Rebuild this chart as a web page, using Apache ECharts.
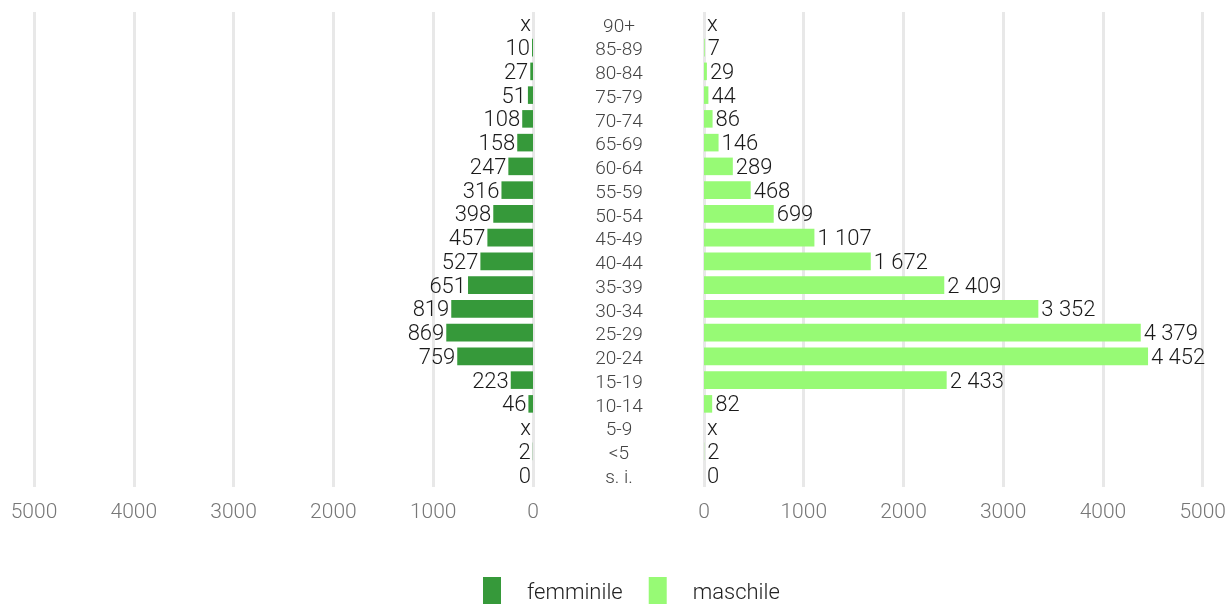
<!DOCTYPE html>
<html><head><meta charset="utf-8">
<script src="https://cdn.jsdelivr.net/npm/echarts@6/dist/echarts.min.js"></script>
<style>html,body{margin:0;padding:0;background:#fff}#c{width:1229px;height:604px}</style>
</head><body><div id="c"></div>
<script>
const categories = ['90+','85-89','80-84','75-79','70-74','65-69','60-64','55-59','50-54','45-49','40-44','35-39','30-34','25-29','20-24','15-19','10-14','5-9','<5','s. i.'];
// null = 'x' (confidential value)
const femminile = [null,10,27,51,108,158,247,316,398,457,527,651,819,869,759,223,46,null,2,0];
const maschile  = [null,7,29,44,86,146,289,468,699,1107,1672,2409,3352,4379,4452,2433,82,null,2,0];
const axisTicks = [0,1000,2000,3000,4000,5000];

const FONT = 'Roboto';
const fmt = v => String(v).replace(/\B(?=(\d{3})+(?!\d))/g, ' ');
const toData = arr => arr.map(v => v === null ? {value: 0, missing: true} : {value: v});
const labelFmt = p => p.data.missing ? 'x' : fmt(p.value);

const chart = echarts.init(document.getElementById('c'));
const xCommon = {
  type: 'value', min: axisTicks[0], max: axisTicks[axisTicks.length-1], interval: 1000,
  axisLine: {show: false}, axisTick: {show: false},
  splitLine: {show: true, lineStyle: {color: '#e8e8e8', width: 3}},
  axisLabel: {color: '#777', fontSize: 21, fontWeight: 300, fontFamily: FONT, margin: 15,
              formatter: v => String(v)}
};
chart.setOption({
  animation: false,
  grid: [
    {left: 34, width: 499, top: 12, height: 475},
    {left: 704, width: 499, top: 12, height: 475},
    {left: 0, width: 533, top: 15, height: 475}
  ],
  xAxis: [
    Object.assign({gridIndex: 0, inverse: true}, xCommon),
    Object.assign({gridIndex: 1}, xCommon),
    {gridIndex: 2, type: 'value', show: false}
  ],
  yAxis: [
    {gridIndex: 0, type: 'category', data: categories, inverse: true,
     axisLine: {show: false}, axisTick: {show: false}, axisLabel: {show: false}},
    {gridIndex: 1, type: 'category', data: categories, inverse: true,
     axisLine: {show: false}, axisTick: {show: false}, axisLabel: {show: false}},
    {gridIndex: 2, type: 'category', data: categories, inverse: true, position: 'right',
     axisLine: {show: false}, axisTick: {show: false}, splitLine: {show: false},
     axisLabel: {interval: 0, color: '#444', fontSize: 19, fontWeight: 300, fontFamily: FONT, align: 'center', margin: 86}}
  ],
  legend: {
    left: 478, top: 572, itemWidth: 18, itemHeight: 32, itemGap: 26, icon: 'rect',
    textStyle: {fontSize: 22, fontWeight: 300, fontFamily: FONT, color: '#222', padding: [0,0,0,21]},
    data: ['femminile', 'maschile']
  },
  series: [
    {name: 'femminile', type: 'bar', xAxisIndex: 0, yAxisIndex: 0, data: toData(femminile),
     barCategoryGap: '26%', itemStyle: {color: '#36993a'},
     label: {show: true, position: 'left', distance: 2, offset: [0, 2], formatter: labelFmt, color: '#1a1a1a', fontSize: 22, fontWeight: 300, fontFamily: FONT}},
    {name: 'maschile', type: 'bar', xAxisIndex: 1, yAxisIndex: 1, data: toData(maschile),
     barCategoryGap: '26%', itemStyle: {color: '#97fa75'},
     label: {show: true, position: 'right', distance: 3, offset: [0, 2], formatter: labelFmt, color: '#1a1a1a', fontSize: 22, fontWeight: 300, fontFamily: FONT}}
  ]
});
</script></body></html>
